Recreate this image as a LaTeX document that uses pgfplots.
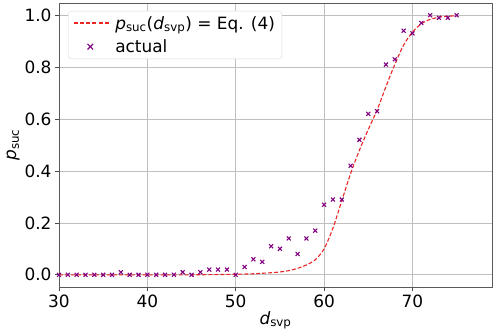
\documentclass[border=0pt]{standalone}
\usepackage{fontspec}
\setmainfont{DejaVu Sans}
\usepackage{pgfplots}
\pgfplotsset{compat=1.18}
\definecolor{curvered}{rgb}{0.92,0.15,0.15}
\definecolor{mpurple}{rgb}{0.5,0,0.5}
\newcommand{\dashseg}{\rule[-0.7bp]{4bp}{1.4bp}\hspace{2.2bp}}
\begin{document}
\begin{tikzpicture}
\begin{axis}[
  scale only axis,
  width=433bp, height=284bp,
  xmin=30, xmax=79, ymin=-0.047, ymax=1.047,
  xtick={30,40,50,60,70},
  ytick={0,0.2,0.4,0.6,0.8,1.0},
  yticklabel style={/pgf/number format/.cd,fixed,fixed zerofill,precision=1},
  /pgf/number format/assume math mode=true,
  ticklabel style={font=\fontsize{17}{20}\selectfont},
  tick align=outside,
  major tick length=4bp,
  tick style={black!70, line width=0.6pt},
  axis line style={black!65, line width=0.6pt},
  xtick pos=bottom, ytick pos=left,
  grid=major,
  major grid style={black!25, line width=0.6pt},
  xlabel={\fontsize{17}{20}\selectfont\itshape d\textsubscript{\upshape svp}},
  ylabel={\fontsize{17}{20}\selectfont\itshape p\textsubscript{\upshape suc}},
  xlabel style={yshift=3bp},
  ylabel style={yshift=-2bp},
  legend style={font=\fontsize{17}{20}\selectfont, draw=black!15, rounded corners=3pt, fill=white, at={(0.021,0.972)}, anchor=north west, inner xsep=5bp, inner ysep=3bp, row sep=5bp, nodes={inner sep=2bp}},
  legend cell align=left,
]
\addplot[color=curvered, dash pattern=on 4pt off 2pt, line width=1.1pt, smooth,
  legend image code/.code={
    \path[draw=none, fill=none] (0bp,0bp) -- (40bp,0bp);
    \node[anchor=west, inner sep=0pt, draw=none, fill=none, solid] at (0bp,0bp) {\textcolor{curvered}{\dashseg\dashseg\dashseg\dashseg\dashseg\rule[-0.7bp]{4bp}{1.4bp}}};
  }] coordinates {
(30,0) (35,0) (40,0) (45,0) (48,0.001) (50,0.002) (52,0.004) (54,0.008) (55,0.011) (56,0.016) (57,0.025) (58,0.038) (59,0.058) (60,0.10) (61,0.18) (62,0.285) (63,0.39) (64,0.48) (65,0.56) (66,0.635) (67,0.725) (68,0.81) (69,0.885) (70,0.935) (71,0.967) (72,0.984) (73,0.992) (74,0.996) (75,0.998)
};
\addlegendentry{{\itshape p}\textsubscript{suc}({\itshape d}\textsubscript{svp}) = Eq. (4)}
\addplot[only marks, mark=x, mark size=2.8pt, color=mpurple, mark options={line width=1.1pt},
  legend image code/.code={\path[draw=none, fill=none] (0bp,0bp) -- (40bp,0bp); \draw[color=mpurple, solid, sharp corners, line width=1.1pt] (17bp,0bp) ++(-2.8pt,-2.8pt) -- ++(5.6pt,5.6pt) ++(0pt,-5.6pt) -- ++(-5.6pt,5.6pt);}] coordinates {
(30,0) (31,0) (32,0) (33,0) (34,0) (35,0) (36,0) (37,0.01) (38,0) (39,0) (40,0) (41,0) (42,0) (43,0) (44,0.01) (45,0) (46,0.01) (47,0.02) (48,0.02) (49,0.02) (50,0) (51,0.03) (52,0.06) (53,0.05) (54,0.11) (55,0.10) (56,0.14) (57,0.08) (58,0.14) (59,0.17) (60,0.27) (61,0.29) (62,0.29) (63,0.42) (64,0.52) (65,0.62) (66,0.63) (67,0.81) (68,0.83) (69,0.94) (70,0.93) (71,0.97) (72,1.0) (73,0.99) (74,0.99) (75,1.0)
};
\addlegendentry{actual}
\end{axis}
\path (current axis.south west) ++(-59bp,-48bp) rectangle ++(493bp,335bp);
\end{tikzpicture}
\end{document}
